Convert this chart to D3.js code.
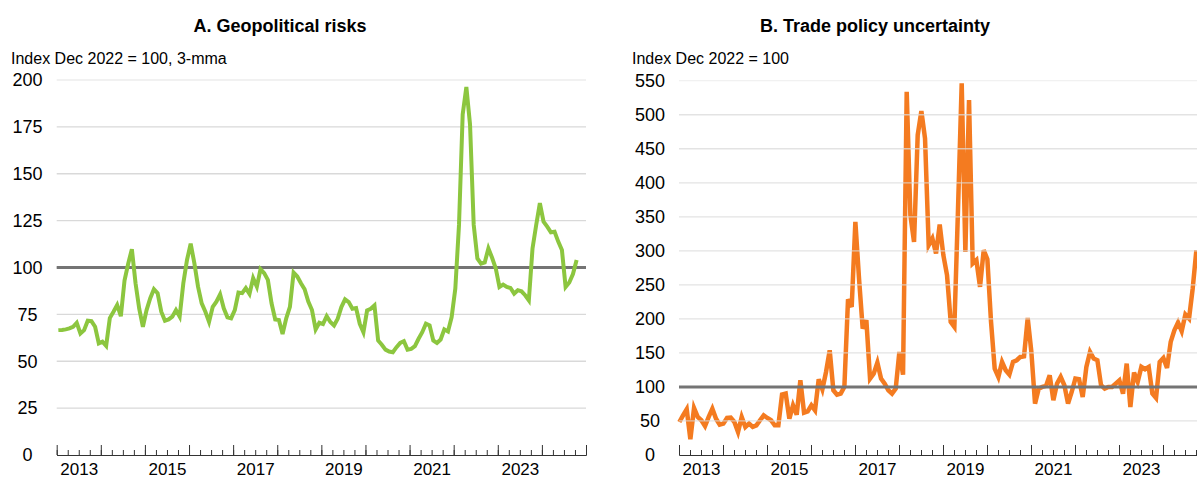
<!DOCTYPE html>
<html><head><meta charset="utf-8">
<script src="https://cdn.jsdelivr.net/npm/d3@7"></script>
<style>
html,body{margin:0;padding:0;background:#fff;}
svg{display:block;font-family:"Liberation Sans",Arial,Helvetica,sans-serif;}
</style></head><body>
<svg id="chart" width="1197" height="478"></svg>
<script>
// ---- Data (monthly, Jan 2013 – Oct 2024) ----
const startYear = 2013;
const gprValues = [
 66.6,66.7,67.0,67.5,68.4,70.5,64.8,66.6,71.6,71.4,68.4,59.5,
 60.4,58.2,73.0,76.4,80.0,74.0,93.0,102.0,109.8,91.6,78.0,68.4,
 77.3,83.6,88.4,86.3,76.4,71.6,72.3,73.8,77.3,73.8,91.6,104.0,
 112.7,102.3,89.8,80.9,76.4,71.0,79.0,81.8,85.7,78.2,73.4,72.9,
 77.3,86.6,86.3,89.0,85.9,94.3,89.8,99.1,97.0,93.4,80.9,72.3,
 72.0,64.5,72.9,79.0,97.3,95.2,91.6,88.4,81.8,77.3,67.0,70.5,
 69.8,74.0,70.9,69.1,72.7,78.9,83.0,81.6,78.0,78.4,70.0,65.5,
 77.1,78.0,79.8,61.1,58.8,56.2,55.2,54.8,57.5,59.8,60.7,56.2,
 56.6,58.0,62.0,65.5,70.0,69.1,61.1,59.8,61.6,67.0,65.9,73.6,
 88.8,122.7,181.6,196.3,176.3,122.7,104.8,102.1,102.7,110.2,105.2,99.5,
 89.6,90.9,89.6,89.1,86.1,87.9,87.3,85.2,82.5,110.2,122.7,134.3,
 124.5,121.8,118.8,119.1,113.8,109.3,89.6,92.0,96.5,104.0
];
const tpuValues = [
 48.5,58.3,67.2,23.0,69.0,55.9,51.0,42.6,55.9,68.1,53.4,44.6,
 46.1,54.4,54.9,48.5,33.8,55.9,41.2,46.1,41.2,43.6,51.0,58.3,
 54.4,51.0,43.6,43.6,88.7,90.2,53.4,73.0,59.3,109.8,62.3,64.2,
 73.0,65.7,111.3,96.6,122.0,153.9,95.1,88.7,90.2,100.0,228.9,217.6,
 342.6,259.3,185.8,198.0,112.3,119.6,135.8,112.3,104.9,95.1,90.2,97.5,
 151.5,118.1,533.8,352.5,313.2,470.1,505.4,465.2,308.3,318.1,296.1,338.7,
 293.6,264.2,195.6,188.2,362.3,546.1,298.5,521.6,281.4,286.3,247.1,301.0,
 287.7,195.6,127.0,114.7,136.8,124.5,118.1,136.8,139.2,144.1,145.1,201.5,
 151.5,75.5,97.5,100.0,101.5,117.2,80.4,104.9,114.7,102.5,75.5,92.6,
 112.3,111.3,85.3,129.4,151.5,141.7,139.2,102.5,97.5,100.0,100.0,104.9,
 109.8,90.2,134.3,70.6,121.1,107.4,129.4,126.0,129.4,90.2,83.8,136.8,
 142.6,127.9,166.2,183.3,194.6,181.9,206.4,200.5,244.6,301.0
];
const yearLabels = [2013, 2015, 2017, 2019, 2021, 2023];
const gprTicks = [0, 25, 50, 75, 100, 125, 150, 175, 200];
const tpuTicks = [0, 50, 100, 150, 200, 250, 300, 350, 400, 450, 500, 550];
const titles = ["A. Geopolitical risks", "B. Trade policy uncertainty"];
const unitLabels = ["Index Dec 2022 = 100, 3-mma", "Index Dec 2022 = 100"];
const referenceValue = 100;

const svg = d3.select("#chart");

function panel(cfg) {
  const g = svg.append("g");
  const x = d3.scaleLinear().domain([startYear, startYear + 12]).range([cfg.x0, cfg.x1]);
  const y = d3.scaleLinear().domain([0, cfg.ticks[cfg.ticks.length - 1]]).range([455, cfg.yTop]);

  // title + unit
  g.append("text").attr("x", cfg.titleX).attr("y", 31.5).attr("text-anchor", "middle")
    .attr("font-size", 18).attr("font-weight", "bold").attr("fill", "#000").text(cfg.title);
  g.append("text").attr("x", cfg.unitX).attr("y", 63.5).attr("font-size", 16)
    .attr("fill", "#000").text(cfg.unit);

  const gridG = g.append("g");
  cfg.ticks.filter(t => t > 0).forEach(t => {
    gridG.append("line").attr("x1", cfg.x0).attr("x2", cfg.x1)
      .attr("y1", y(t)).attr("y2", y(t))
      .attr("stroke", t === cfg.ticks[cfg.ticks.length - 1] ? "#ececec" : "#d9d9d9")
      .attr("stroke-width", 1.3);
  });
  const refLine = () => g.append("line").attr("x1", cfg.x0).attr("x2", cfg.x1)
      .attr("y1", y(referenceValue)).attr("y2", y(referenceValue))
      .attr("stroke", "#747474").attr("stroke-width", 3);

  const line = d3.line()
    .x((d, i) => x(startYear + (i + cfg.offset) / 12))
    .y(d => y(d));

  const drawSeries = () => g.append("path").datum(cfg.values)
      .attr("fill", "none").attr("stroke", cfg.color).attr("stroke-width", cfg.width)
      .attr("d", line);

  if (cfg.gridOnTop) {
    gridG.remove();
    drawSeries();
    g.node().appendChild(gridG.node());
    gridG.selectAll("line").attr("stroke-opacity", 0.75);
    refLine();
  } else {
    refLine();
    drawSeries();
  }

  // y axis labels (centred in the label column)
  const yAxis = d3.axisLeft(y).tickValues(cfg.ticks).tickSize(0).tickPadding(0);
  const ya = g.append("g").attr("transform", `translate(${cfg.labelX},0)`).call(yAxis);
  ya.select(".domain").remove();
  ya.selectAll("text").attr("font-size", 18).attr("fill", "#000").attr("x", 0)
    .attr("text-anchor", "middle")
    .attr("font-family", '"Liberation Sans",Arial,sans-serif');

  // x axis: quarter minor ticks, year major ticks, labels mid-year
  const quarters = d3.range(startYear, startYear + 12.01, 0.25);
  const years = d3.range(startYear, startYear + 13);
  const minorAx = d3.axisBottom(x).tickValues(quarters).tickSize(-5).tickSizeOuter(0).tickFormat("");
  const majorAx = d3.axisBottom(x).tickValues(years).tickSize(-10).tickSizeOuter(0).tickFormat("");
  const gm = g.append("g").attr("transform", "translate(0,455)").call(minorAx);
  const gM = g.append("g").attr("transform", "translate(0,455)").call(majorAx);
  [gm, gM].forEach(s => { s.selectAll("line").attr("stroke", "#333"); s.select(".domain").attr("stroke", "#333"); });
  const labAx = d3.axisBottom(x).tickValues(yearLabels.map(v => v + 0.5)).tickSize(0).tickPadding(8)
    .tickFormat(d => String(Math.floor(d)));
  const gl = g.append("g").attr("transform", "translate(0,455)").call(labAx);
  gl.select(".domain").remove();
  gl.selectAll("text").attr("font-size", 17).attr("fill", "#000")
    .attr("font-family", '"Liberation Sans",Arial,sans-serif');
}

panel({ x0: 56.7, x1: 586, yTop: 80, ticks: gprTicks, values: gprValues,
  color: "#8cc63f", width: 4, offset: 0.45, title: titles[0], unit: unitLabels[0],
  titleX: 280, unitX: 11, labelX: 27.5, gridOnTop: false });
panel({ x0: 679, x1: 1207, yTop: 80.7, ticks: tpuTicks, values: tpuValues,
  color: "#f47b20", width: 4.5, offset: 0.1, title: titles[1], unit: unitLabels[1],
  titleX: 875, unitX: 632, labelX: 650, gridOnTop: true });
</script>
</body></html>
